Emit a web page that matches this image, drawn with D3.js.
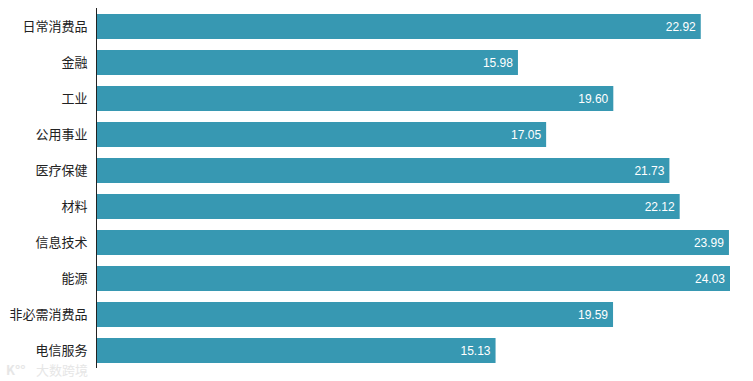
<!DOCTYPE html>
<html><head><meta charset="utf-8">
<script src="https://cdn.jsdelivr.net/npm/d3@7"></script>
<style>body{margin:0;background:#fff}svg{display:block}</style>
</head><body>
<script>
const categories = ["日常消费品","金融","工业","公用事业","医疗保健","材料","信息技术","能源","非必需消费品","电信服务"];
const values = [22.92,15.98,19.60,17.05,21.73,22.12,23.99,24.03,19.59,15.13];

const W = 753, H = 381;
const svg = d3.select("body").append("svg").attr("width", W).attr("height", H);

const x = d3.scaleLinear().domain([0, 24.03]).range([97, 730]);
const y = d3.scaleBand().domain(categories).range([8.5, 368.5]).paddingInner(0.306).paddingOuter(0.153);

svg.append("g").selectAll("rect").data(categories).join("rect")
  .attr("x", x(0)).attr("y", d => y(d))
  .attr("width", (d,i) => x(values[i]) - x(0))
  .attr("height", y.bandwidth())
  .attr("fill", "#3798b2");

const axis = svg.append("g").attr("transform", `translate(${x(0)-0.5},0)`)
  .call(d3.axisLeft(y).tickSize(0).tickPadding(9));
axis.select(".domain").attr("stroke", "#222").attr("d", "M0,8V368");
axis.selectAll("text").attr("font-family", "'Noto Sans CJK SC', sans-serif")
  .attr("font-size", 13).attr("fill", "#222");

svg.append("g").selectAll("text").data(categories).join("text")
  .attr("x", (d,i) => x(values[i]) - 5)
  .attr("y", d => y(d) + y.bandwidth()/2)
  .attr("dy", "0.35em").attr("text-anchor", "end")
  .attr("font-family", "'Liberation Sans', Arial, sans-serif")
  .attr("font-size", 12).attr("fill", "#fff")
  .text((d,i) => values[i].toFixed(2));

const wm = svg.append("g").attr("fill", "#e6e6e6")
  .attr("font-family", "'Noto Sans CJK SC', sans-serif");
wm.append("text").attr("x", 6).attr("y", 375).attr("font-size", 13).attr("font-weight", "bold").text("K°°");
wm.append("text").attr("x", 36).attr("y", 375).attr("font-size", 13).text("大数跨境");
</script>
</body></html>
